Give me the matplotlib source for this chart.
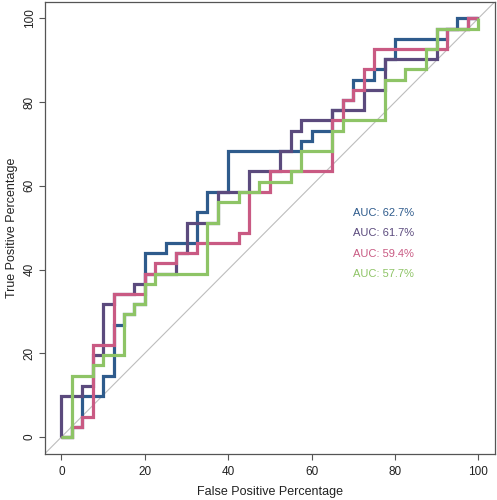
import matplotlib
matplotlib.use("Agg")
import matplotlib.pyplot as plt

plt.rcParams['font.family'] = ['Liberation Sans', 'DejaVu Sans']

# ROC staircases: corner points as (false positive count, true positive count)
N_NEG = 40
N_POS = 41

blue_fp = [0, 1, 2, 4, 5, 6, 7, 8, 10, 13, 14, 16, 23, 24, 26, 27, 28, 30, 31, 32, 37, 38, 40]
blue_tp = [0, 1, 4, 6, 11, 12, 13, 18, 19, 22, 24, 28, 29, 30, 32, 33, 35, 36, 37, 39, 40, 41, 41]

purple_fp = [0, 0, 2, 3, 4, 5, 7, 8, 11, 12, 15, 18, 21, 22, 23, 26, 29, 31, 36, 39, 40]
purple_tp = [0, 4, 5, 8, 13, 14, 15, 16, 18, 21, 24, 26, 28, 30, 31, 32, 34, 37, 40, 41, 41]

pink_fp = [0, 1, 2, 3, 5, 8, 9, 11, 13, 17, 18, 20, 26, 27, 28, 29, 30, 37, 39, 40]
pink_tp = [0, 1, 2, 9, 14, 16, 17, 18, 19, 20, 24, 26, 31, 33, 34, 36, 38, 40, 41, 41]

green_fp = [0, 1, 3, 4, 6, 7, 8, 9, 14, 15, 17, 19, 22, 23, 26, 27, 31, 33, 35, 36, 40]
green_tp = [0, 6, 7, 8, 12, 13, 15, 16, 21, 23, 24, 25, 26, 28, 30, 31, 35, 36, 38, 40, 41]

auc_labels = ['AUC: 62.7%', 'AUC: 61.7%', 'AUC: 59.4%', 'AUC: 57.7%']
colors = ['#2E5B8C', '#5B4A7D', '#C95A83', '#8EC466']

curves = [(blue_fp, blue_tp), (purple_fp, purple_tp), (pink_fp, pink_tp), (green_fp, green_tp)]

fig = plt.figure(figsize=(4.97, 5.0), dpi=100)
ax = fig.add_axes([44.8 / 497, 46.3 / 500, 450.2 / 497, 452.1 / 500])

ax.axline((0, 0), (100, 100), color='#BDBDBD', lw=0.8, zorder=1)

for (fp, tp), col in zip(curves, colors):
    x = [100.0 * v / N_NEG for v in fp]
    y = [100.0 * v / N_POS for v in tp]
    ax.plot(x, y, drawstyle='steps-post', color=col, lw=2.3,
            solid_joinstyle='miter', solid_capstyle='butt', zorder=2)

# AUC annotations
for k, (lab, col) in enumerate(zip(auc_labels, colors)):
    ax.text(70, 53.6 - 4.9 * k, lab, color=col, fontsize=8,
            ha='left', va='center')

ax.set_xlim(-4, 104)
ax.set_ylim(-4, 104)
ax.set_xticks(range(0, 101, 20))
ax.set_yticks(range(0, 101, 20))

for s in ax.spines.values():
    s.set_color('#555555')
    s.set_linewidth(0.9)

ax.tick_params(direction='out', length=4, width=0.8, color='#555555',
               labelsize=8.5, labelcolor='#222222')
ax.tick_params(axis='x', pad=5)
ax.tick_params(axis='y', pad=2.5, labelrotation=90)
for lab in ax.get_yticklabels():
    lab.set_va('center')

fig.text(269.9 / 497, 1 - 491.7 / 500, 'False Positive Percentage',
         ha='center', va='center', fontsize=9, color='#222222')
fig.text(12 / 497, 1 - 227.6 / 500, 'True Positive Percentage',
         ha='center', va='center', rotation=90, fontsize=9, color='#222222')

plt.savefig('out.png', dpi=100)
